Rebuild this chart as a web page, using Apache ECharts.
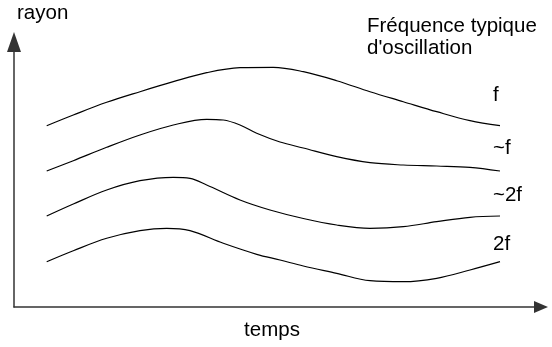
<!DOCTYPE html>
<html><head><meta charset="utf-8">
<script src="https://cdn.jsdelivr.net/npm/echarts@6/dist/echarts.min.js"></script>
<style>html,body{margin:0;padding:0;background:#fff}#c{width:552px;height:347px}</style>
</head><body><div id="c"></div>
<script>
// time (x) and radius (y) values
const seriesNames = ['f', '~f', '~2f', '2f'];
const curveF = [[32.7,181.3],[59.3,192],[92.7,204.7],[126,215.3],[159.3,225.3],[192.7,234.3],[226,239.3],[259.3,239.7],[289.3,235.3],[322.7,226.3],[356,215.3],[389.3,205.3],[422.7,195.3],[456,186.3],[486,181.3]];
const curveApproxF = [[32.7,136],[59.3,146.3],[92.7,159.7],[126,172],[159.3,182],[192.7,187.7],[209.3,187],[226,182],[242.7,173.7],[266,165],[289.3,159],[322.7,150.3],[356,144.3],[389.3,142],[422.7,141],[456,139.7],[486,136]];
const curveApprox2F = [[32.7,91],[59.3,103],[92.7,117],[126,126.3],[159.3,129.7],[176,128.7],[192.7,122],[226,107],[256,97],[289.3,88.5],[322.7,82],[356,78.7],[389.3,80.3],[422.7,85.3],[456,89.7],[486,91]];
const curve2F = [[32.7,45.3],[59.3,56.3],[92.7,68.7],[126,76.3],[152.7,78.7],[176,76.3],[209.3,63.7],[242.7,52.7],[266,47],[289.3,41],[322.7,33.7],[356,26.3],[389.3,25.3],[422.7,28.7],[456,37],[486,45.3]];
const curves = [curveF, curveApproxF, curveApprox2F, curve2F];
const xName = 'temps';
const yName = 'rayon';
const legendTitle = ['Fréquence typique', "d'oscillation"];

const chart = echarts.init(document.getElementById('c'), null, {renderer: 'canvas'});
const FONT = '20.5px "Liberation Sans", Arial, sans-serif';
const labelPos = [[493, 95], [493, 148], [493, 195], [493, 244]];
const option = {
  animation: false,
  grid: {left: 14, right: 11, top: 42, bottom: 40},
  xAxis: {
    type: 'value', min: 0, max: 527,
    axisLine: {show: true, lineStyle: {color: '#333', width: 1.5}, symbol: ['none', 'triangle'], symbolSize: [12, 14]},
    axisTick: {show: false}, axisLabel: {show: false}, splitLine: {show: false}
  },
  yAxis: {
    type: 'value', min: 0, max: 265,
    axisLine: {show: true, lineStyle: {color: '#333', width: 1.5}, symbol: ['none', 'triangle'], symbolSize: [14, 20]},
    axisTick: {show: false}, axisLabel: {show: false}, splitLine: {show: false}
  },
  series: curves.map((d, i) => ({
    name: seriesNames[i], type: 'line', data: d, smooth: 0.35, showSymbol: false,
    lineStyle: {color: '#000', width: 1.2}
  })),
  graphic: [
    {type: 'text', x: 17, y: 13, style: {text: yName, font: FONT, fill: '#000', verticalAlign: 'middle'}},
    {type: 'text', x: 272, y: 330, style: {text: xName, font: FONT, fill: '#000', align: 'center', verticalAlign: 'middle'}},
    {type: 'text', x: 367, y: 26, style: {text: legendTitle[0], font: FONT, fill: '#000', verticalAlign: 'middle'}},
    {type: 'text', x: 367, y: 48, style: {text: legendTitle[1], font: FONT, fill: '#000', verticalAlign: 'middle'}}
  ].concat(seriesNames.map((n, i) => ({
    type: 'text', x: labelPos[i][0], y: labelPos[i][1],
    style: {text: n, font: FONT, fill: '#000', verticalAlign: 'middle'}
  })))
};
chart.setOption(option);
</script></body></html>
